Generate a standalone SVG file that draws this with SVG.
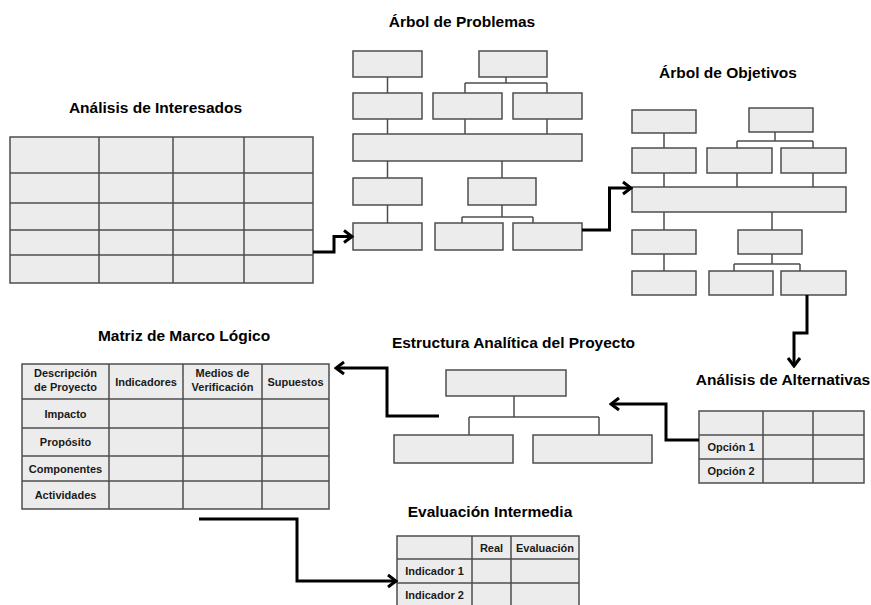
<svg xmlns="http://www.w3.org/2000/svg" width="871" height="605" viewBox="0 0 871 605">
  <style>
    .box { fill: #ececec; stroke: #4d4d4d; stroke-width: 1.5; }
    .grid { fill: none; stroke: #4d4d4d; stroke-width: 1.5; }
    .link { fill: none; stroke: #4d4d4d; stroke-width: 1.5; }
    .flow { fill: none; stroke: #000; stroke-width: 3; }
    .title { font-family: "Liberation Sans", Arial, sans-serif; font-weight: bold; font-size: 15.5px; fill: #000; text-anchor: middle; }
    .cell { font-family: "Liberation Sans", Arial, sans-serif; font-weight: bold; font-size: 11px; fill: #1a1a1a; text-anchor: middle; }
  </style>
  <defs>
    <marker id="chevron" markerUnits="userSpaceOnUse" viewBox="-12 -9 14 18" refX="0" refY="0" markerWidth="14" markerHeight="18" orient="auto">
      <path d="M-8,-6 L0,0 L-8,6" fill="none" stroke="#000" stroke-width="3"/>
    </marker>
  </defs>

  <!-- Stakeholder analysis table -->
  <g id="analisis-interesados">
    <text class="title" x="155.5" y="113">Análisis de Interesados</text>
    <rect class="box" x="10" y="137" width="303" height="146"/>
    <path class="grid" d="M99,137V283 M173,137V283 M244,137V283 M10,173H313 M10,203H313 M10,230H313 M10,255H313"/>
  </g>

  <!-- Problem tree -->
  <g id="arbol-problemas">
    <text class="title" x="462" y="27">Árbol de Problemas</text>
    <path class="link" d="M387.5,77V93 M506,77V83 M465,83H547 M465,83V93 M547,83V93
                          M387.5,119V134 M465,119V134 M547,119V134
                          M387.5,161V178 M502,161V178
                          M387.5,205V223 M502,205V217 M462,217H533 M462,217V223 M533,217V223"/>
    <rect class="box" x="353" y="51" width="69" height="26"/>
    <rect class="box" x="479" y="51" width="68" height="26"/>
    <rect class="box" x="353" y="93" width="69" height="26"/>
    <rect class="box" x="433" y="93" width="69" height="26"/>
    <rect class="box" x="513" y="93" width="69" height="26"/>
    <rect class="box" x="353" y="134" width="229" height="27"/>
    <rect class="box" x="353" y="178" width="69" height="27"/>
    <rect class="box" x="468" y="178" width="68" height="27"/>
    <rect class="box" x="353" y="223" width="69" height="27"/>
    <rect class="box" x="435" y="223" width="68" height="27"/>
    <rect class="box" x="513" y="223" width="69" height="27"/>
  </g>

  <!-- Objective tree -->
  <g id="arbol-objetivos">
    <text class="title" x="728" y="78">Árbol de Objetivos</text>
    <path class="link" d="M664,133V148 M775,132V141 M737,141H813 M737,141V148 M813,141V148
                          M664,173V187 M737,173V187 M813,173V187
                          M664,212V230 M772,212V230
                          M664,254V271 M772,254V264 M734,264H800 M734,264V271 M800,264V271"/>
    <rect class="box" x="632" y="110" width="64" height="23"/>
    <rect class="box" x="749" y="108" width="64" height="24"/>
    <rect class="box" x="632" y="148" width="64" height="25"/>
    <rect class="box" x="707" y="148" width="65" height="25"/>
    <rect class="box" x="781" y="148" width="65" height="25"/>
    <rect class="box" x="632" y="187" width="214" height="25"/>
    <rect class="box" x="632" y="230" width="64" height="24"/>
    <rect class="box" x="738" y="230" width="64" height="24"/>
    <rect class="box" x="632" y="271" width="64" height="24"/>
    <rect class="box" x="709" y="271" width="64" height="24"/>
    <rect class="box" x="781" y="271" width="65" height="24"/>
  </g>

  <!-- Alternatives analysis -->
  <g id="analisis-alternativas">
    <text class="title" x="783" y="385">Análisis de Alternativas</text>
    <rect class="box" x="699" y="411" width="165" height="72"/>
    <path class="grid" d="M763,411V483 M813,411V483 M699,435H864 M699,459H864"/>
    <text class="cell" x="731" y="451">Opción 1</text>
    <text class="cell" x="731" y="475">Opción 2</text>
  </g>

  <!-- Work breakdown structure -->
  <g id="estructura-analitica">
    <text class="title" x="513.5" y="348">Estructura Analítica del Proyecto</text>
    <path class="link" d="M514,396V417 M469,417H599 M469,417V435 M599,417V435"/>
    <rect class="box" x="446" y="370" width="120" height="26"/>
    <rect class="box" x="394" y="435" width="119" height="28"/>
    <rect class="box" x="533" y="435" width="119" height="28"/>
  </g>

  <!-- Logical framework matrix -->
  <g id="matriz-marco-logico">
    <text class="title" x="184" y="341">Matriz de Marco Lógico</text>
    <rect class="box" x="22" y="364" width="307" height="145"/>
    <path class="grid" d="M109,364V509 M183,364V509 M262,364V509 M22,399H329 M22,428H329 M22,456H329 M22,481H329"/>
    <text class="cell" x="65.5" y="377">Descripción</text>
    <text class="cell" x="65.5" y="391">de Proyecto</text>
    <text class="cell" x="146" y="385.5">Indicadores</text>
    <text class="cell" x="222.5" y="377">Medios de</text>
    <text class="cell" x="222.5" y="391">Verificación</text>
    <text class="cell" x="295.5" y="385.5">Supuestos</text>
    <text class="cell" x="65.5" y="417.5">Impacto</text>
    <text class="cell" x="65.5" y="446">Propósito</text>
    <text class="cell" x="65.5" y="472.5">Componentes</text>
    <text class="cell" x="65.5" y="499">Actividades</text>
  </g>

  <!-- Mid-term evaluation -->
  <g id="evaluacion-intermedia">
    <text class="title" x="490" y="517">Evaluación Intermedia</text>
    <rect class="box" x="397" y="536" width="182" height="72"/>
    <path class="grid" d="M472,536V608 M511,536V608 M397,559H579 M397,583H579"/>
    <text class="cell" x="491.5" y="551.5">Real</text>
    <text class="cell" x="545" y="551.5">Evaluación</text>
    <text class="cell" x="434.5" y="575">Indicador 1</text>
    <text class="cell" x="434.5" y="599">Indicador 2</text>
  </g>

  <!-- Process flow between the stages -->
  <g id="connectors">
    <path class="flow" d="M313,252H334V236.5H352" marker-end="url(#chevron)"/>
    <path class="flow" d="M582,230H609.5V188H631" marker-end="url(#chevron)"/>
    <path class="flow" d="M807,295V333H794V366" marker-end="url(#chevron)"/>
    <path class="flow" d="M699,440H666V404H611" marker-end="url(#chevron)"/>
    <path class="flow" d="M439,416H387V368H336" marker-end="url(#chevron)"/>
    <path class="flow" d="M199,519H297V581H396" marker-end="url(#chevron)"/>
  </g>
</svg>
